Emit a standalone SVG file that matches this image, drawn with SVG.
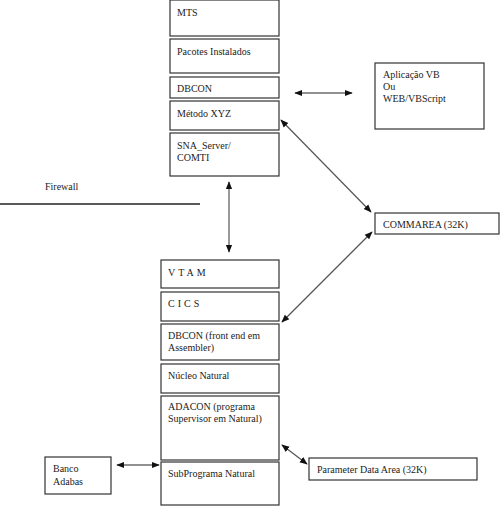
<svg xmlns="http://www.w3.org/2000/svg" width="500" height="506" viewBox="0 0 500 506">
<defs>
<style>
.box{fill:#fff;stroke:#333;stroke-width:1.2}
.t{font-family:"Liberation Serif","Times New Roman",serif;font-size:10px;fill:#222}
.c{stroke:#555;stroke-width:1.2;fill:none}
</style>
<marker id="ah" viewBox="0 0 10 10" refX="9" refY="5" markerWidth="8" markerHeight="8" markerUnits="userSpaceOnUse" orient="auto-start-reverse">
<path d="M0,1 L10,5 L0,9 Z" fill="#111"/>
</marker>
</defs>
<rect width="500" height="506" fill="#fff"/>
<g id="connectors">
<line class="c" x1="0" y1="204" x2="200" y2="204" style="stroke:#222;stroke-width:1.5"/>
<line class="c" x1="229" y1="182" x2="229" y2="252" marker-start="url(#ah)" marker-end="url(#ah)"/>
<line class="c" x1="295" y1="93" x2="352" y2="93" style="stroke:#222" marker-start="url(#ah)" marker-end="url(#ah)"/>
<line class="c" x1="281" y1="120" x2="371" y2="212" marker-start="url(#ah)" marker-end="url(#ah)"/>
<line class="c" x1="372" y1="232" x2="282" y2="322" marker-start="url(#ah)" marker-end="url(#ah)"/>
<line class="c" x1="117" y1="465" x2="159" y2="465" style="stroke:#222" marker-start="url(#ah)" marker-end="url(#ah)"/>
<line class="c" x1="282" y1="445" x2="307" y2="464" marker-start="url(#ah)" marker-end="url(#ah)"/>
</g>
<text class="t" x="45" y="190">Firewall</text>
<g id="mts"><rect class="box" x="170" y="0" width="109" height="36"/><text class="t" x="177" y="16">MTS</text></g>
<g id="pacotes"><rect class="box" x="170" y="39" width="109" height="34"/><text class="t" x="177" y="55">Pacotes Instalados</text></g>
<g id="dbcon"><rect class="box" x="170" y="77" width="109" height="21"/><text class="t" x="177" y="92">DBCON</text></g>
<g id="metodo"><rect class="box" x="170" y="101" width="109" height="29"/><text class="t" x="177" y="117">Método XYZ</text></g>
<g id="sna"><rect class="box" x="170" y="133" width="109" height="43"/><text class="t" x="177" y="149">SNA_Server/</text><text class="t" x="177" y="161">COMTI</text></g>
<g id="aplicacao"><rect class="box" x="375" y="63" width="109" height="66"/><text class="t" x="383" y="78">Aplicação VB</text><text class="t" x="383" y="90">Ou</text><text class="t" x="383" y="102">WEB/VBScript</text></g>
<g id="commarea"><rect class="box" x="375" y="213" width="124" height="21"/><text class="t" x="383" y="228">COMMAREA (32K)</text></g>
<g id="vtam"><rect class="box" x="161" y="260" width="118" height="28"/><text class="t" x="168" y="276" letter-spacing="3">VTAM</text></g>
<g id="cics"><rect class="box" x="161" y="292" width="118" height="29"/><text class="t" x="168" y="307" letter-spacing="3">CICS</text></g>
<g id="dbcon2"><rect class="box" x="161" y="324" width="118" height="36"/><text class="t" x="168" y="339">DBCON (front end em</text><text class="t" x="168" y="351">Assembler)</text></g>
<g id="nucleo"><rect class="box" x="161" y="364" width="118" height="29"/><text class="t" x="168" y="379">Núcleo Natural</text></g>
<g id="adacon"><rect class="box" x="161" y="396" width="118" height="64"/><text class="t" x="168" y="410">ADACON (programa</text><text class="t" x="168" y="422">Supervisor em Natural)</text></g>
<g id="subprograma"><rect class="box" x="161" y="462" width="118" height="43"/><text class="t" x="168" y="477">SubPrograma Natural</text></g>
<g id="banco"><rect class="box" x="45" y="457" width="66" height="37"/><text class="t" x="53" y="472">Banco</text><text class="t" x="53" y="485">Adabas</text></g>
<g id="parameter"><rect class="box" x="309" y="458" width="168" height="22"/><text class="t" x="317" y="473">Parameter Data Area (32K)</text></g>
</svg>
